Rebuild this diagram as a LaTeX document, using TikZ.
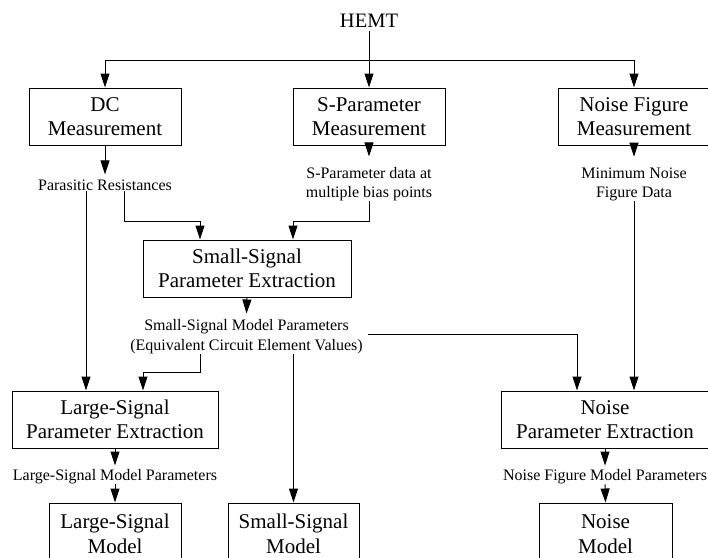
\documentclass[tikz,border=0pt]{standalone}
\usepackage{fontspec}
\setmainfont{Liberation Serif}
\usetikzlibrary{arrows.meta}
\begin{document}
\begin{tikzpicture}[x=1pt,y=-1pt,
  box/.style={draw,line width=1pt,inner sep=0pt,align=center,minimum height=57pt,font=\fontsize{21}{24.5}\selectfont},
  lbl/.style={inner sep=0pt,align=center,font=\fontsize{16}{18.7}\selectfont},
  arr/.style={line width=1pt,-{Triangle[length=14pt,width=9pt]}},
  ln/.style={line width=1pt}]
\path[use as bounding box] (0,0) rectangle (708,557);
\clip (0,0) rectangle (708,557);
% top
\node[inner sep=0pt,font=\fontsize{20.5}{24}\selectfont] (hemt) at (369,20.5) {HEMT};
\node[box,minimum width=152pt] (dc) at (105,116.5) {DC\\Measurement};
\node[box,minimum width=152pt] (sp) at (369,116.5) {S-Parameter\\Measurement};
\node[box,minimum width=152pt] (nf) at (634,116.5) {Noise Figure\\Measurement};
% first labels
\node[lbl] (pr) at (105,185.3) {Parasitic Resistances};
\node[lbl] (spd) at (369,184.3) {S-Parameter data at\\multiple bias points};
\node[lbl] (mnf) at (634,184.3) {Minimum Noise\\Figure Data};
% small-signal extraction
\node[box,minimum width=208pt] (sse) at (247,268.5) {Small-Signal\\Parameter Extraction};
\node[lbl,font=\fontsize{16}{19.3}\selectfont] (ssp) at (246.5,336.6) {Small-Signal Model Parameters\\(Equivalent Circuit Element Values)};
% extraction row
\node[box,minimum width=206pt] (lse) at (115,419.5) {Large-Signal\\Parameter Extraction};
\node[box,minimum width=208pt] (npe) at (605,419.5) {Noise\\Parameter Extraction};
\node[lbl] (lsp) at (115,477) {Large-Signal Model Parameters};
\node[lbl] (nfp) at (605,477) {Noise Figure Model Parameters};
% models
\node[box,minimum width=132pt,minimum height=62pt] (lsm) at (115,534) {Large-Signal\\Model};
\node[box,minimum width=131pt,minimum height=62pt] (ssm) at (293.5,534) {Small-Signal\\Model};
\node[box,minimum width=133pt,minimum height=62pt] (nm) at (605.5,534) {Noise\\Model};
% coordinates
\coordinate (jt) at (369,60);
\coordinate (m1) at (200,221);
\coordinate (m2) at (293,221);
\coordinate (m3) at (143,372);
% connectors
\draw[arr] ([yshift=-3.5pt]hemt.south) -- (sp.north);
\draw[arr] (jt) -| (dc.north);
\draw[arr] (jt) -| (nf.north);
\draw[arr] (dc.south) -- ([yshift=5.4pt]pr.north);
\draw[arr] (sp.south) -- ([yshift=11pt]spd.north);
\draw[arr] (nf.south) -- ([yshift=11pt]mnf.north);
\draw[arr] ([xshift=-19pt]pr.south) -- ([xshift=-19pt]pr.south |- lse.north);
\draw[arr] ([xshift=19pt]pr.south) |- (m1) -- (m1 |- sse.north);
\draw[arr] (spd.south) |- (m2) -- (m2 |- sse.north);
\draw[arr] (sse.south) -- ([yshift=6pt]ssp.north);
\draw[arr] ([xshift=-46.5pt]ssp.south) |- (m3) -- (m3 |- lse.north);
\draw[arr] (ssp.south -| ssm.north) -- (ssm.north);
\draw[arr] ([shift={(5pt,2.5pt)}]ssp.east) -| ([xshift=-28pt]npe.north);
\draw[arr] (mnf.south) -- (mnf.south |- npe.north);
\draw[arr] (lse.south) -- ([yshift=4pt]lsp.north);
\draw[arr] (lsp.south) -- (lsm.north);
\draw[arr] (npe.south) -- ([yshift=4pt]nfp.north);
\draw[arr] (nfp.south) -- (nm.north);
\end{tikzpicture}
\end{document}
